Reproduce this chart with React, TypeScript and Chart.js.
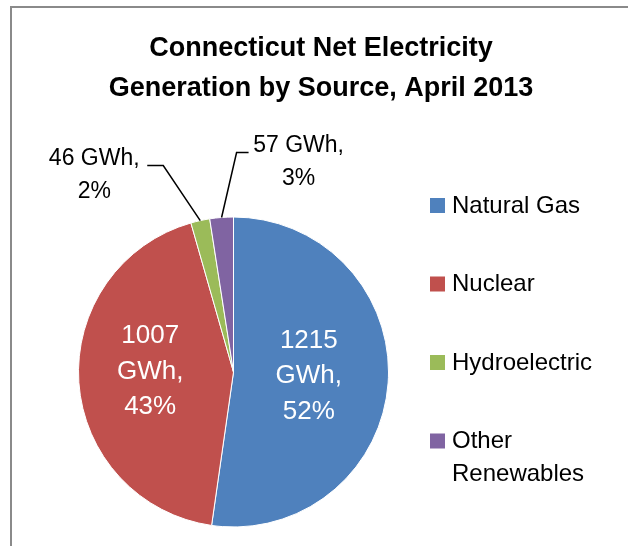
import React, { useEffect, useRef } from "react";
import { Chart, registerables } from "chart.js";

Chart.register(...registerables);

const categories = ["Natural Gas", "Nuclear", "Hydroelectric", "Other Renewables"];
const values = [1215, 1007, 46, 57];
const percents = ["52%", "43%", "2%", "3%"];
const colors = ["#4F81BD", "#C0504D", "#9BBB59", "#8064A2"];
const titleLines = ["Connecticut Net Electricity", "Generation by Source, April 2013"];
const legendLines = [["Natural Gas"], ["Nuclear"], ["Hydroelectric"], ["Other", "Renewables"]];
const unit = "GWh";

const FONT = "'Liberation Sans', Arial, sans-serif";

// inside label nudges (relative to arc's tooltip position)
const insideNudge: Record<number, [number, number]> = {
  0: [-2, 0],
  1: [-6, -4],
};

// outside label layout (relative to slice's outer edge at mid-angle)
const outsideLayout: Record<number, { elbow: [number, number]; end: [number, number]; text: [number, number] }> = {
  2: { elbow: [-37, -55], end: [-53, -55], text: [-106, -62] },
  3: { elbow: [15, -65], end: [27, -65], text: [77, -72] },
};

const decorPlugin = {
  id: "decor",
  afterDraw(chart: any) {
    const ctx = chart.ctx as CanvasRenderingContext2D;
    ctx.save();
    // frame
    ctx.strokeStyle = "#8a8a8a";
    ctx.lineWidth = 2;
    ctx.strokeRect(11, 7, 800, 800);

    // title
    ctx.fillStyle = "#000";
    ctx.font = `bold 27px ${FONT}`;
    ctx.textAlign = "center";
    ctx.textBaseline = "middle";
    titleLines.forEach((t, i) => ctx.fillText(t, 321, 49 + i * 40));

    // legend
    ctx.font = `24px ${FONT}`;
    ctx.textAlign = "left";
    const labels = chart.data.labels as string[];
    labels.forEach((_, i) => {
      const y = 205 + i * 78.5;
      ctx.fillStyle = colors[i];
      ctx.fillRect(430, y - 7, 15, 15);
      ctx.fillStyle = "#000";
      legendLines[i].forEach((ln, j) => ctx.fillText(ln, 452, y + 1 + j * 33));
    });

    // data labels
    const meta = chart.getDatasetMeta(0);
    const data = chart.data.datasets[0].data as number[];
    meta.data.forEach((arc: any, i: number) => {
      const v = data[i];
      const lay = outsideLayout[i];
      if (!lay) {
        const p = arc.tooltipPosition();
        const n = insideNudge[i] || [0, 0];
        const lines = [String(v), unit + ",", percents[i]];
        ctx.fillStyle = "#fff";
        ctx.font = `26px ${FONT}`;
        ctx.textAlign = "center";
        lines.forEach((ln, j) => ctx.fillText(ln, p.x + n[0], p.y + n[1] - 37 + j * 35.5));
      } else {
        const mid = (arc.startAngle + arc.endAngle) / 2;
        const ax = arc.x + Math.cos(mid) * arc.outerRadius;
        const ay = arc.y + Math.sin(mid) * arc.outerRadius;
        ctx.strokeStyle = "#000";
        ctx.lineWidth = 1.5;
        ctx.beginPath();
        ctx.moveTo(ax, ay);
        ctx.lineTo(ax + lay.elbow[0], ay + lay.elbow[1]);
        ctx.lineTo(ax + lay.end[0], ay + lay.end[1]);
        ctx.stroke();
        ctx.fillStyle = "#000";
        ctx.font = `23px ${FONT}`;
        ctx.textAlign = "center";
        const lines = [`${v} ${unit},`, percents[i]];
        lines.forEach((ln, j) => ctx.fillText(ln, ax + lay.text[0], ay + lay.text[1] + j * 33));
      }
    });
    ctx.restore();
  },
};

export default function App() {
  const ref = useRef<HTMLCanvasElement>(null);
  useEffect(() => {
    if (!ref.current) return;
    const chart = new Chart(ref.current, {
      type: "pie",
      data: {
        labels: categories,
        datasets: [
          {
            data: values,
            backgroundColor: colors,
            borderColor: "#ffffff",
            borderWidth: 1,
          },
        ],
      },
      options: {
        responsive: false,
        animation: false,
        events: [],
        layout: { padding: { left: 78, right: 239, top: 216, bottom: 18 } },
        plugins: {
          legend: { display: false },
          title: { display: false },
          tooltip: { enabled: false },
        },
      },
      plugins: [decorPlugin],
    });
    return () => chart.destroy();
  }, []);
  return (
    <div style={{ position: "absolute", left: 0, top: 0, width: 628, height: 546, background: "#fff" }}>
      <canvas ref={ref} width={628} height={546} style={{ display: "block" }} />
    </div>
  );
}
